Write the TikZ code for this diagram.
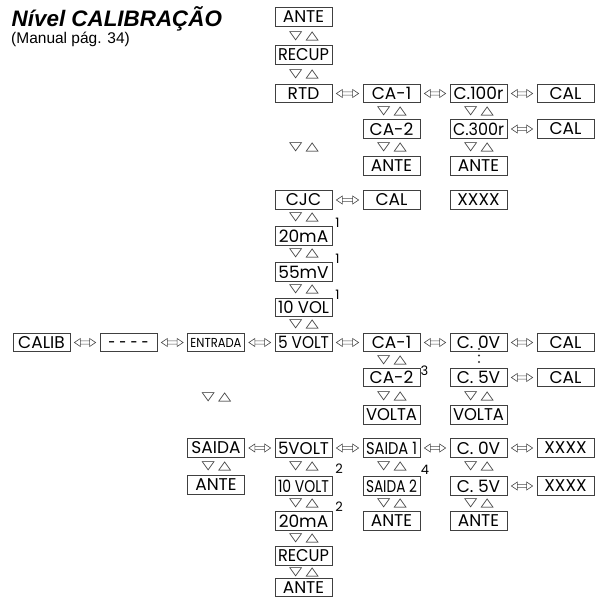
\documentclass[tikz,border=0pt]{standalone}
\usepackage{fontspec}
\setmainfont{Poppins}
\newfontfamily\titlefont{Liberation Sans}
\newfontfamily\symfont{DejaVu Sans}
\usetikzlibrary{calc}
\newsavebox\fitbox
\newcommand\fitw[1]{\sbox\fitbox{#1}\ifdim\wd\fitbox>51pt\resizebox{51pt}{\ht\fitbox}{\usebox\fitbox}\else\usebox\fitbox\fi}
\newcommand\bx[4]{\node[box] (#1) at (#2,#3) {\fitw{#4}};}
\newcommand\tri[2]{\node[trip] at (#1,#2) {\scalebox{1.15}[0.8]{▽\hspace{3pt}△}};}
\newcommand\dsh{\scalebox{0.75}[1]{-}}
\tikzset{
  box/.style={draw=black!75, line width=0.7pt, minimum width=57pt, minimum height=18.5pt, inner sep=0pt, font=\fontsize{17}{18}\selectfont},
  trip/.style={font=\symfont\fontsize{15}{15}\selectfont, inner sep=0pt, text=black!80},
  note/.style={font=\fontsize{13}{13}\selectfont, inner sep=0pt},
  dar/.style={draw=black!70, line width=0.6pt, line join=miter,
    to path={let \p1=(\tikztostart), \p2=(\tikztotarget) in
      (\x1+4pt,\y1) -- (\x1+10pt,\y1+4pt) -- (\x1+10pt,\y1-4pt) -- cycle
      (\x2-4pt,\y2) -- (\x2-10pt,\y2+4pt) -- (\x2-10pt,\y2-4pt) -- cycle
      (\x1+10pt,\y1+1.6pt) -- (\x2-10pt,\y2+1.6pt)
      (\x1+10pt,\y1-1.6pt) -- (\x2-10pt,\y2-1.6pt)}}
}
\begin{document}
\begin{tikzpicture}[x=1pt,y=-1pt]
\useasboundingbox (0,0) rectangle (596,598);
% title
\node[anchor=base west, inner sep=0pt, font=\titlefont\bfseries\itshape\fontsize{22.4}{22}\selectfont] (title) at (11.5,26.7) {Nível CALIBRAÇÃO};
\node[anchor=base west, inner sep=0pt, font=\titlefont\fontsize{15.5}{16}\selectfont] (sub) at (11,43.5) {(Manual pág. 34)};
% upper block
\bx{ante1}{303.5}{17}{ANTE}
\bx{recup1}{303.5}{55}{RECUP}
\bx{rtd}{303.5}{93.5}{RTD}
\bx{caone}{391.5}{93.5}{CA-1}
\bx{cone}{478.5}{93.5}{C.100r}
\bx{calone}{565.5}{93.5}{CAL}
\bx{catwo}{391.5}{129}{CA-2}
\bx{cthree}{478.5}{129}{C.300r}
\bx{caltwo}{565.5}{129}{CAL}
\bx{antetwo}{391.5}{166}{ANTE}
\bx{antethree}{478.5}{166}{ANTE}
\bx{cjc}{303.5}{200}{CJC}
\bx{calthree}{391.5}{200}{CAL}
\bx{xxone}{478.5}{200}{XXXX}
\bx{maone}{303.5}{236}{20mA}
\bx{mv}{303.5}{272}{55mV}
\bx{volten}{303.5}{307.5}{10 VOL}
% middle row
\bx{calib}{41.5}{342.5}{CALIB}
\node[box] (dashes) at (128.5,342.5) {\vphantom{A}\dsh\hspace{4pt}\dsh\hspace{4pt}\dsh\hspace{4pt}\dsh};
\node[box, font=\fontsize{13}{13}\selectfont] (entrada) at (216,342.5) {\fitw{ENTRADA}};
\bx{voltfive}{303.5}{342.5}{5 VOLT}
\bx{caoneb}{391.5}{342.5}{CA-1}
\bx{czero}{478.5}{342.5}{C. 0V}
\bx{calfour}{565.5}{342.5}{CAL}
\bx{catwob}{391.5}{377.5}{CA-2}
\bx{cfive}{478.5}{377.5}{C. 5V}
\bx{calfive}{565.5}{377.5}{CAL}
\bx{voltaone}{391.5}{415}{VOLTA}
\bx{voltatwo}{478.5}{415}{VOLTA}
% lower block
\bx{saida}{216}{448}{SAIDA}
\bx{fivevolt}{303.5}{448}{5VOLT}
\bx{saidaone}{391.5}{448}{SAIDA 1}
\bx{czerob}{478.5}{448}{C. 0V}
\bx{xxtwo}{565.5}{448}{XXXX}
\bx{antefour}{216}{485}{ANTE}
\bx{tenvolt}{303.5}{486}{10 VOLT}
\bx{saidatwo}{391.5}{486}{SAIDA 2}
\bx{cfiveb}{478.5}{486}{C. 5V}
\bx{xxthree}{565.5}{486}{XXXX}
\bx{matwo}{303.5}{521}{20mA}
\bx{antefive}{391.5}{521}{ANTE}
\bx{antesix}{478.5}{521}{ANTE}
\bx{recuptwo}{303.5}{556}{RECUP}
\bx{anteseven}{303.5}{587.5}{ANTE}
% double arrows
\draw[dar] (rtd.east) to (caone.west);
\draw[dar] (caone.east) to (cone.west);
\draw[dar] (cone.east) to (calone.west);
\draw[dar] (cthree.east) to (caltwo.west);
\draw[dar] (cjc.east) to (calthree.west);
\draw[dar] (calib.east) to (dashes.west);
\draw[dar] (dashes.east) to (entrada.west);
\draw[dar] (entrada.east) to (voltfive.west);
\draw[dar] (voltfive.east) to (caoneb.west);
\draw[dar] (caoneb.east) to (czero.west);
\draw[dar] (czero.east) to (calfour.west);
\draw[dar] (cfive.east) to (calfive.west);
\draw[dar] (saida.east) to (fivevolt.west);
\draw[dar] (fivevolt.east) to (saidaone.west);
\draw[dar] (saidaone.east) to (czerob.west);
\draw[dar] (czerob.east) to (xxtwo.west);
\draw[dar] (cfiveb.east) to (xxthree.west);
% navigation triangles
\foreach \y in {36,74,147,217,253,289,324.5,466,503,538.5,572.5} {\tri{304}{\y}}
\foreach \y in {111.5,147,360.5,396.5,466,503} {\tri{392}{\y}}
\foreach \y in {111.5,147,396.5,466,503} {\tri{479}{\y}}
\foreach \y in {397,466} {\tri{216.5}{\y}}
% dots between C. 0V and C. 5V
\foreach \y in {349,355.5,362} {\fill[black!80] (479,\y) circle (1.1pt);}
% footnote marks
\node[note] (nA) at (337.5,223) {1};
\node[note] (nB) at (337.5,259) {1};
\node[note] (nC) at (337.5,295) {1};
\node[note] (nD) at (424.5,371) {3};
\node[note] (nE) at (339,469) {2};
\node[note] (nF) at (339,507) {2};
\node[note] (nG) at (425,470) {4};
\end{tikzpicture}
\end{document}
